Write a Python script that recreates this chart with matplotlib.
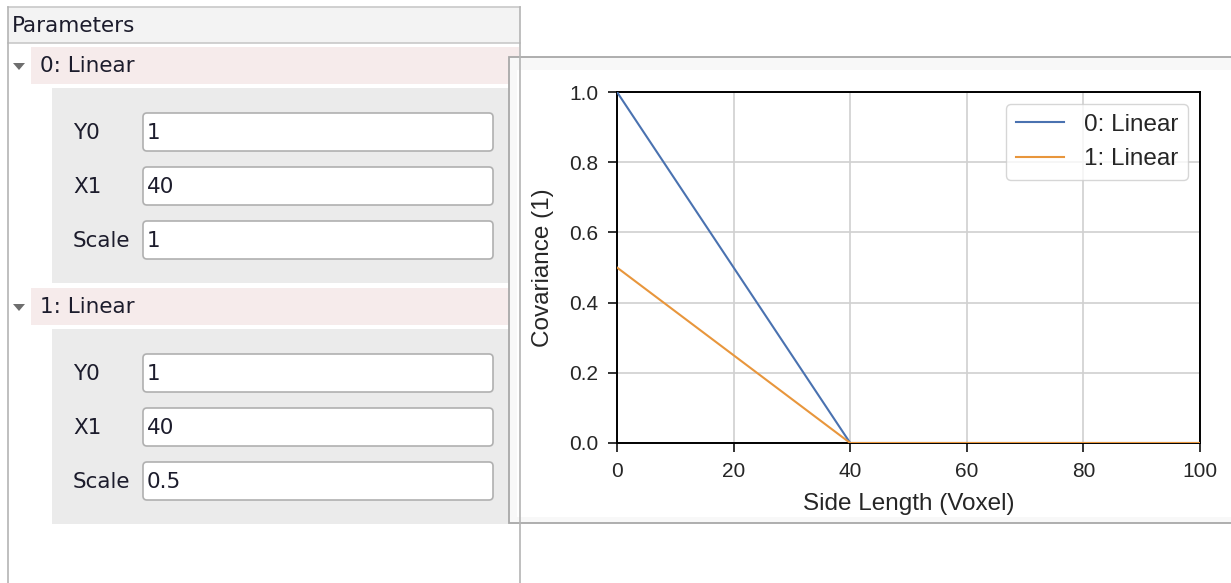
import matplotlib
matplotlib.use("Agg")
import matplotlib.pyplot as plt
from matplotlib.patches import Rectangle, FancyBboxPatch, Polygon

# ---- data ----
side_length = [0, 40, 100]
cov_linear0 = [1.0, 0.0, 0.0]
cov_linear1 = [0.5, 0.0, 0.0]
series_names = ["0: Linear", "1: Linear"]
param_names = ["Y0", "X1", "Scale"]
params_linear0 = ["1", "40", "1"]
params_linear1 = ["1", "40", "0.5"]
x_ticks = [0, 20, 40, 60, 80, 100]
y_ticks = [0.0, 0.2, 0.4, 0.6, 0.8, 1.0]

W, H = 1231, 583
fig = plt.figure(figsize=(W / 100, H / 100), dpi=100)
fig.patch.set_facecolor("white")

gui = fig.add_axes([0, 0, 1, 1], zorder=0)
gui.set_xlim(0, W)
gui.set_ylim(H, 0)
gui.axis("off")

GUI_FONT = "DejaVu Sans"
GFS = 15.5
TXT = "#1c1c2c"


def box(x0, y0, x1, y1, **kw):
    gui.add_patch(Rectangle((x0, y0), x1 - x0, y1 - y0, **kw))


# left panel frame
box(8, 7, 520, 43, facecolor="#f3f3f3", edgecolor="none")
gui.plot([8, 520], [7, 7], color="#c8c8c8", lw=1.2)
gui.plot([8, 520], [43, 43], color="#c8c8c8", lw=1.2)
gui.plot([8, 8], [7, H], color="#b4b4b4", lw=1.2)
gui.plot([520, 520], [7, H], color="#b4b4b4", lw=1.2)
gui.text(12, 26, "Parameters", fontsize=GFS, family=GUI_FONT, color=TXT, va="center")

sections = [
    (series_names[0], params_linear0, 47),
    (series_names[1], params_linear1, 288),
]
for name, vals, top in sections:
    box(31, top, 519, top + 37, facecolor="#f6ebeb", edgecolor="none")
    gui.add_patch(Polygon([(13, top + 16), (25, top + 16), (19, top + 23)],
                          closed=True, facecolor="#6e6e6e", edgecolor="none"))
    gui.text(40, top + 19, name, fontsize=GFS, family=GUI_FONT, color=TXT, va="center")
    gtop = top + 41
    box(52, gtop, 519, gtop + 195, facecolor="#ebebeb", edgecolor="none")
    for i, (pn, pv) in enumerate(zip(param_names, vals)):
        by = gtop + 25 + i * 54
        gui.add_patch(FancyBboxPatch((143, by), 350, 38,
                                     boxstyle="round,pad=0,rounding_size=4",
                                     facecolor="white", edgecolor="#b0b0b0", lw=1.2))
        gui.text(73, by + 20, pn, fontsize=GFS, family=GUI_FONT, color=TXT, va="center")
        gui.text(147, by + 20, pv, fontsize=GFS, family=GUI_FONT, color=TXT, va="center")

# plot panel
box(509, 57, 1240, 523, facecolor="#f8f8f8", edgecolor="#a8a8a8", lw=1.3)
box(517, 70, 1240, 517, facecolor="white", edgecolor="none")

# ---- chart ----
ax = fig.add_axes([617 / W, 1 - 443 / H, 583 / W, 351 / H], zorder=5)
colors = ["#4a72b0", "#e8963c"]
ax.plot(side_length, cov_linear0, color=colors[0], lw=1.5, label=series_names[0], zorder=3)
ax.plot(side_length, cov_linear1, color=colors[1], lw=1.5, label=series_names[1], zorder=3)
ax.set_xlim(0, 100)
ax.set_ylim(0, 1)
ax.set_xticks(x_ticks)
ax.set_yticks(y_ticks)
ax.set_xticklabels([str(t) for t in x_ticks])
ax.set_yticklabels([f"{t:.1f}" for t in y_ticks])
ax.grid(True, color="#d0d0d0", lw=1.2)
ax.set_axisbelow(True)
PLOT_FONT = "Liberation Sans"
ax.tick_params(axis="both", direction="out", length=6.5, width=1.3, colors="#222222",
               labelsize=15, labelcolor="#262626", pad=7)
ax.tick_params(axis="y", pad=7)
for lab in ax.get_xticklabels() + ax.get_yticklabels():
    lab.set_family(PLOT_FONT)
for s in ax.spines.values():
    s.set_color("black")
    s.set_linewidth(1.4)
ax.set_xlabel("Side Length (Voxel)", fontsize=17.5, family=PLOT_FONT, color="#262626", labelpad=9)
ax.set_ylabel("Covariance (1)", fontsize=17.5, family=PLOT_FONT, color="#262626", labelpad=11)
leg = ax.legend(loc="upper right", prop={"family": PLOT_FONT, "size": 17.5},
                frameon=True, fancybox=True, edgecolor="#cccccc", framealpha=0.8,
                borderaxespad=0.5)
for t in leg.get_texts():
    t.set_color("#262626")

fig.savefig("out.png", dpi=100)
